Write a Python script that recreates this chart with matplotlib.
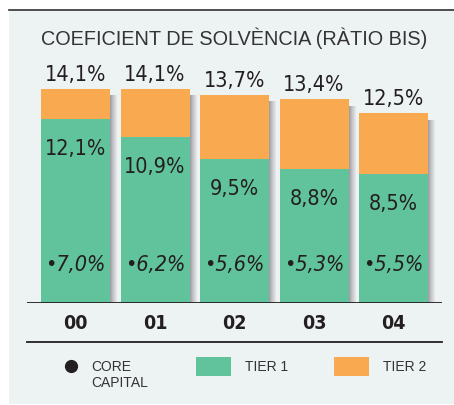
import matplotlib
matplotlib.use("Agg")
import matplotlib.pyplot as plt
import numpy as np
from matplotlib import font_manager as fm
from matplotlib.lines import Line2D
from matplotlib.patches import Rectangle
from matplotlib.colors import LinearSegmentedColormap

# ---- data ----
years = ["00", "01", "02", "03", "04"]
tier1 = [12.1, 10.9, 9.5, 8.8, 8.5]
total = [14.1, 14.1, 13.7, 13.4, 12.5]
core_capital = [7.0, 6.2, 5.6, 5.3, 5.5]
title = "COEFICIENT DE SOLVÈNCIA (RÀTIO BIS)"
legend_labels = ["CORE\nCAPITAL", "TIER 1", "TIER 2"]

tier2 = [t - a for t, a in zip(total, tier1)]

def fmt(v):
    return f"{v:.1f}".replace(".", ",") + "%"

# ---- fonts ----
names = {f.name for f in fm.fontManager.ttflist}
cond_entries = [f for f in fm.fontManager.ttflist
                if f.name == "DejaVu Sans" and "condensed" in str(f.stretch).lower()]
if "Liberation Sans Narrow" in names:
    NUM = dict(family="Liberation Sans Narrow")
elif cond_entries:
    NUM = dict(family="DejaVu Sans", stretch="condensed")
else:
    NUM = dict(family="Roboto")
REG = dict(family="Liberation Sans")

GREEN = "#61c39c"
ORANGE = "#f9a94f"
BG = "#edf2f2"
TXT = "#231f20"

W, H = 454, 406
fig = plt.figure(figsize=(W / 100, H / 100), dpi=100)
fig.patch.set_facecolor("white")

def fx(px):
    return px / W

def fy(py):
    return (H - py) / H

# background panel and top rule
fig.add_artist(Rectangle((fx(9), fy(405)), fx(454) - fx(9), fy(10) - fy(405),
                         transform=fig.transFigure, facecolor=BG, edgecolor="none", zorder=0))
fig.add_artist(Line2D([fx(9), fx(454)], [fy(10.5), fy(10.5)], transform=fig.transFigure,
                      color="#333333", lw=1.2, zorder=1))

# axes
left_px, right_px, base_px, top_px = 27, 442, 304, 50
ax = fig.add_axes([fx(left_px), fy(base_px), fx(right_px) - fx(left_px), fy(top_px) - fy(base_px)])
ax.set_facecolor("none")
x = np.arange(len(years))
pitch_px = 79.5
xl = (-48.5 / pitch_px, len(years) - 1 + 48.5 / pitch_px)
ppu = 15.2  # pixels per percentage unit
yl = (0, (base_px - top_px) / ppu)
bar_w = 69 / pitch_px

# shadows
grad = np.linspace(0, 1, 32).reshape(1, -1)
scmap = LinearSegmentedColormap.from_list("sh", ["#9c9ca0", "#c8c8cc", "#e6e9ea"])
sw = 7 / pitch_px
for xi, t in zip(x, total):
    x0 = xi + bar_w / 2
    ax.imshow(grad, extent=(x0, x0 + sw, 0, t - 7 / ppu), cmap=scmap,
              aspect="auto", zorder=1, interpolation="bilinear")

ax.bar(x, tier1, width=bar_w, color=GREEN, zorder=2, linewidth=0)
ax.bar(x, tier2, bottom=tier1, width=bar_w, color=ORANGE, zorder=2, linewidth=0)
ax.set_xlim(*xl)
ax.set_ylim(*yl)
ax.axis("off")

ax.axhline(0, color=TXT, lw=1.3, zorder=3, xmin=0, xmax=1)

NS = 15.5
for xi, t, a, c, yr in zip(x, total, tier1, core_capital, years):
    ax.annotate(fmt(t), (xi, t), xytext=(0, 15), textcoords="offset pixels",
                ha="center", va="center", fontsize=NS, color=TXT, **NUM)
    ax.annotate(fmt(a), (xi, a), xytext=(0, -29), textcoords="offset pixels",
                ha="center", va="center", fontsize=NS, color=TXT, **NUM)
    ax.annotate("•" + fmt(c), (xi, 0), xytext=(0, 39), textcoords="offset pixels",
                ha="center", va="center", fontsize=NS, style="italic", color=TXT, **NUM)
    ax.annotate(yr, (xi, 0), xytext=(0, -20), textcoords="offset pixels",
                ha="center", va="center", fontsize=14, fontweight="bold", color=TXT,
                annotation_clip=False, **NUM)

# lower rule
fig.add_artist(Line2D([fx(27), fx(442)], [fy(343), fy(343)], transform=fig.transFigure,
                      color=TXT, lw=1.3, zorder=3))

# title
fig.text(fx(234.5), fy(38), title, ha="center", va="center", fontsize=14.3,
         color="#333333", **REG)

# legend
fig.add_artist(Line2D([fx(71)], [fy(367)], transform=fig.transFigure, marker="o",
                      markersize=8.5, color=TXT, linestyle="none"))
fig.text(fx(91), fy(375), legend_labels[0], ha="left", va="center", fontsize=10,
         color="#333333", linespacing=1.1, **REG)
fig.add_artist(Rectangle((fx(196), fy(377)), fx(231) - fx(196), fy(358) - fy(377),
                         transform=fig.transFigure, facecolor=GREEN, edgecolor="none"))
fig.text(fx(245), fy(367), legend_labels[1], ha="left", va="center", fontsize=10,
         color="#333333", **REG)
fig.add_artist(Rectangle((fx(334), fy(377)), fx(369) - fx(334), fy(358) - fy(377),
                         transform=fig.transFigure, facecolor=ORANGE, edgecolor="none"))
fig.text(fx(383), fy(367), legend_labels[2], ha="left", va="center", fontsize=10,
         color="#333333", **REG)

fig.savefig("out.png", dpi=100, facecolor=fig.get_facecolor())
